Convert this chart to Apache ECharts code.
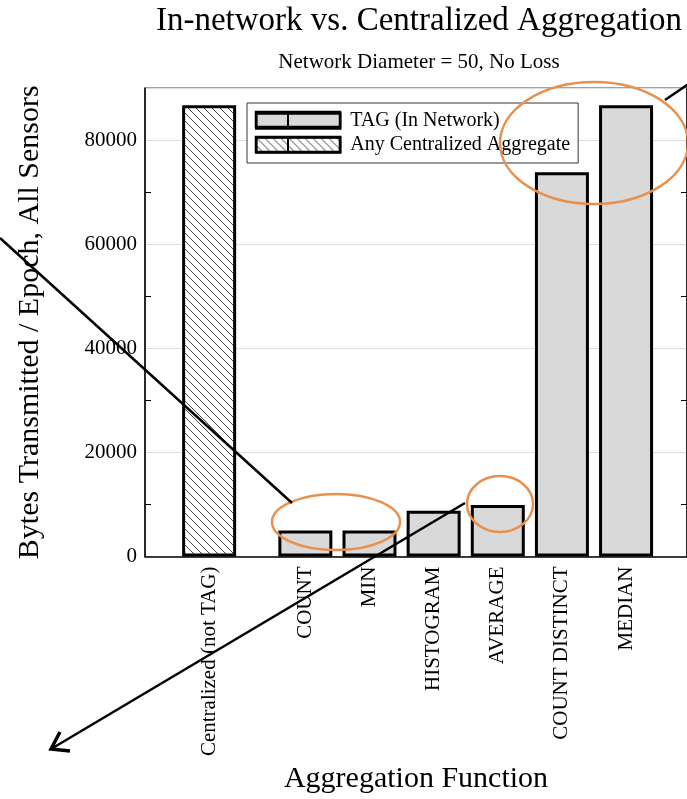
<!DOCTYPE html>
<html>
<head>
<meta charset="utf-8">
<style>
  html, body { margin: 0; padding: 0; background: #fff; }
  #chart-container { width: 687px; height: 799px; }
</style>
<script src="https://cdn.jsdelivr.net/npm/echarts@6/dist/echarts.min.js"></script>
</head>
<body>
<div id="chart-container"></div>
<script>
var categories = ['Centralized (not TAG)', 'COUNT', 'MIN', 'HISTOGRAM', 'AVERAGE', 'COUNT DISTINCT', 'MEDIAN'];
var positions = [0, 1.5, 2.5, 3.5, 4.5, 5.5, 6.5];
var centralizedBytes = [86700];
var tagBytes = [5000, 5000, 8800, 9900, 73800, 86700];
var yLabelValues = [0, 20000, 40000, 60000, 80000];
var yTickValues = [10000, 30000, 50000, 70000];

var serif = '"Liberation Serif", "DejaVu Serif", serif';

// hatch pattern for the centralized bar
var hatch = document.createElement('canvas');
hatch.width = 8;
hatch.height = 8;
var hctx = hatch.getContext('2d');
hctx.fillStyle = '#fff';
hctx.fillRect(0, 0, 8, 8);
hctx.strokeStyle = '#444';
hctx.lineWidth = 1;
hctx.beginPath();
hctx.moveTo(-1, -1); hctx.lineTo(9, 9);
hctx.moveTo(-1, 7); hctx.lineTo(1, 9);
hctx.moveTo(7, -1); hctx.lineTo(9, 1);
hctx.stroke();

var dom = document.getElementById('chart-container');
var myChart = echarts.init(dom, null, { renderer: 'canvas' });

var tagData = tagBytes.map(function (v, i) { return [positions[i + 1], v]; });
var centralData = centralizedBytes.map(function (v, i) { return [positions[i], v]; });

var orange = '#E8914F';

// legend swatch outlines (thicker than the legend draws them)
function swatch(y) {
    return [
        { type: 'rect', shape: { x: 256, y: y, width: 84, height: 15 }, style: { fill: null, stroke: '#000', lineWidth: 2.5 }, z: 100 },
        { type: 'line', shape: { x1: 288, y1: y, x2: 288, y2: y + 15 }, style: { stroke: '#000', lineWidth: 2 }, z: 100 }
    ];
}

var option = {
    animation: false,
    title: [
        {
            text: 'In-network vs. Centralized Aggregation',
            left: 419, top: 5, textAlign: 'center', padding: 0,
            textStyle: { fontFamily: serif, fontSize: 33, fontWeight: 'normal', color: '#000' }
        },
        {
            text: 'Network Diameter = 50, No Loss',
            left: 419, top: 52, textAlign: 'center', padding: 0,
            textStyle: { fontFamily: serif, fontSize: 21, fontWeight: 'normal', color: '#000' }
        }
    ],
    legend: {
        orient: 'vertical',
        left: 247, top: 103,
        padding: [8, 8, 8, 8],
        itemGap: 4,
        itemWidth: 84, itemHeight: 15,
        icon: 'rect',
        backgroundColor: '#fff',
        borderColor: '#333',
        borderWidth: 1,
        itemStyle: { borderColor: '#000', borderWidth: 2.5 },
        textStyle: { fontFamily: serif, fontSize: 20, color: '#000', padding: [0, 0, 0, 5] },
        data: ['TAG (In Network)', 'Any Centralized Aggregate']
    },
    grid: {
        left: 145, right: -3, top: 88, bottom: 241,
        show: true, borderColor: '#444', borderWidth: 1, backgroundColor: 'transparent'
    },
    xAxis: {
        type: 'value',
        min: -1, max: 7.45,
        name: 'Aggregation Function',
        nameLocation: 'middle',
        nameGap: 206,
        nameTextStyle: { fontFamily: serif, fontSize: 30, color: '#000' },
        axisLine: { show: true, onZero: false, lineStyle: { color: '#000', width: 1.5 } },
        axisTick: { show: false },
        splitLine: { show: false },
        axisLabel: {
            customValues: positions,
            rotate: 90,
            margin: 10,
            fontFamily: serif, fontSize: 21, color: '#000',
            formatter: function (v) {
                var i = positions.indexOf(v);
                return i >= 0 ? categories[i] : '';
            }
        }
    },
    yAxis: [
        {
            type: 'value',
            min: 0, max: 90000, interval: 10000,
            name: 'Bytes Transmitted / Epoch, All Sensors',
            nameLocation: 'middle',
            nameGap: 100,
            nameTextStyle: { fontFamily: serif, fontSize: 30, color: '#000' },
            axisLine: { show: true, onZero: false, lineStyle: { color: '#000', width: 1.5 } },
            axisTick: { show: true, inside: true, length: 6, customValues: yTickValues, lineStyle: { color: '#000' } },
            axisLabel: {
                customValues: yLabelValues, margin: 8, fontFamily: serif, fontSize: 21, color: '#000',
                formatter: function (v) { return String(v); }
            },
            splitLine: { show: false }
        },
        {
            type: 'value',
            position: 'right',
            min: 0, max: 90000, interval: 10000,
            axisLine: { show: true, onZero: false, lineStyle: { color: '#000', width: 1.5 } },
            axisTick: { show: true, inside: true, length: 6, customValues: yTickValues, lineStyle: { color: '#000' } },
            axisLabel: { show: false },
            splitLine: { show: false }
        },
        {
            // light grid lines only
            type: 'value',
            position: 'left',
            min: 0, max: 90000, interval: 20000,
            axisLine: { show: false, onZero: false },
            axisTick: { show: false },
            axisLabel: { show: false },
            splitLine: { show: true, lineStyle: { color: '#ddd', width: 1 } }
        }
    ],
    series: [
        {
            name: 'TAG (In Network)',
            type: 'bar',
            barWidth: 54,
            barGap: '-100%',
            data: tagData,
            itemStyle: { color: '#d9d9d9', borderColor: '#000', borderWidth: 3 }
        },
        {
            name: 'Any Centralized Aggregate',
            type: 'bar',
            barWidth: 54,
            barGap: '-100%',
            data: centralData,
            itemStyle: { color: { image: hatch, repeat: 'repeat' }, borderColor: '#000', borderWidth: 3 }
        }
    ],
    graphic: swatch(112).concat(swatch(137)).concat([
        // annotations
        { type: 'ellipse', shape: { cx: 594, cy: 143, rx: 94, ry: 61 }, style: { fill: null, stroke: orange, lineWidth: 2.5 }, z: 100 },
        { type: 'ellipse', shape: { cx: 336, cy: 522, rx: 64, ry: 28 }, style: { fill: null, stroke: orange, lineWidth: 2.5 }, z: 100 },
        { type: 'ellipse', shape: { cx: 500, cy: 504, rx: 33, ry: 28 }, style: { fill: null, stroke: orange, lineWidth: 2.5 }, z: 100 },
        { type: 'line', shape: { x1: 0, y1: 238, x2: 292, y2: 503 }, style: { stroke: '#000', lineWidth: 2.5 }, z: 100 },
        { type: 'line', shape: { x1: 690, y1: 83, x2: 665, y2: 100 }, style: { stroke: '#000', lineWidth: 2.5 }, z: 100 },
        { type: 'line', shape: { x1: 465, y1: 503, x2: 51, y2: 749 }, style: { stroke: '#000', lineWidth: 2.5 }, z: 100 },
        { type: 'polyline', shape: { points: [[60, 732], [51, 749], [70, 751]] }, style: { stroke: '#000', lineWidth: 3.5, fill: null }, z: 100 }
    ])
};

if (option && typeof option === 'object') {
    myChart.setOption(option);
}

window.addEventListener('resize', myChart.resize);
</script>
</body>
</html>
